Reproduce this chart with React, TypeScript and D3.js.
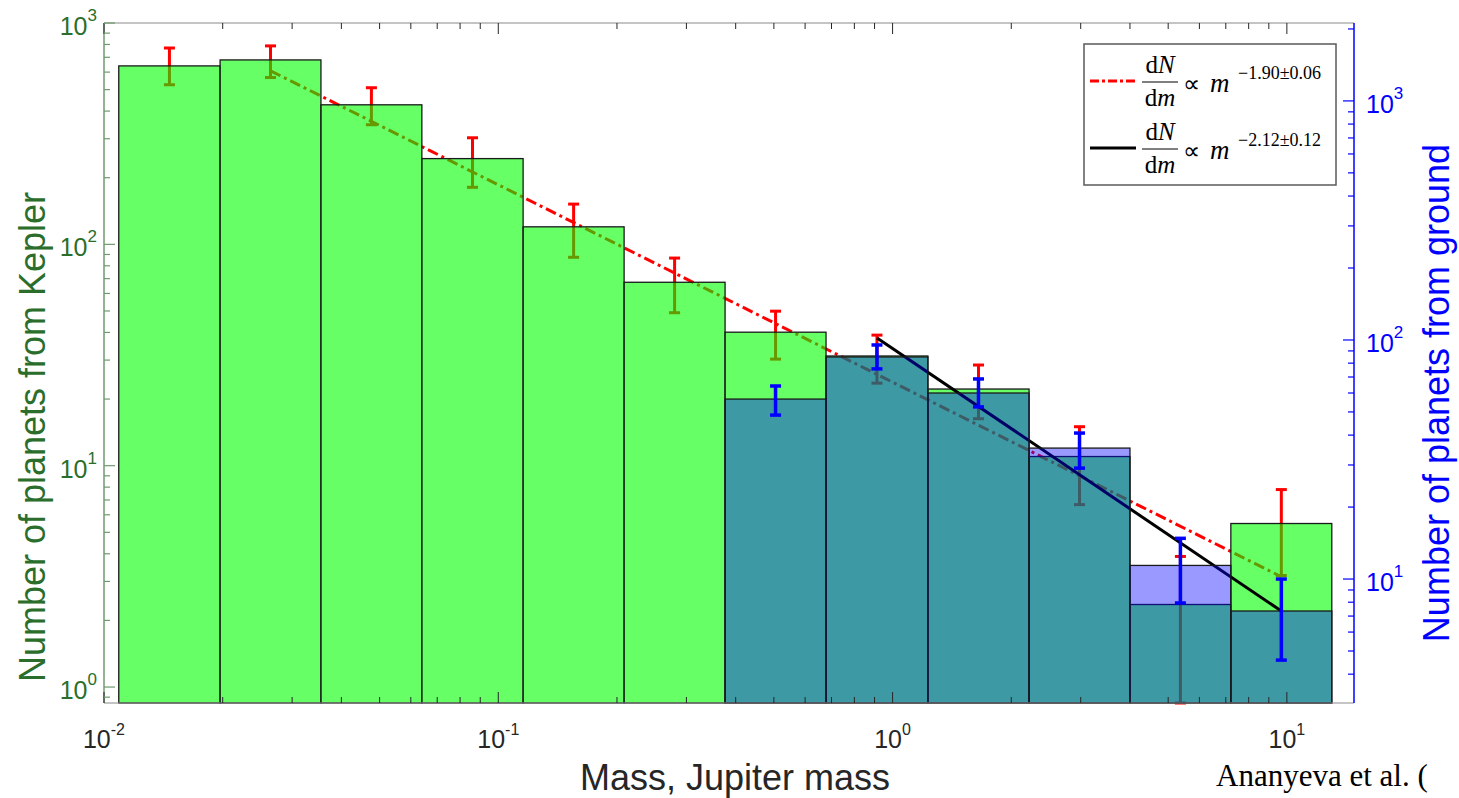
import React from 'react';
import * as d3 from 'd3';

const W = 1459;
const H = 798;

// Mass bin edges (Jupiter masses), 12 log-spaced bins
const binEdges = [0.0109, 0.0197, 0.0355, 0.064, 0.1156, 0.2085, 0.376, 0.678, 1.229, 2.219, 4.0, 7.21, 13.0];

// Kepler counts (left axis) with error-bar bounds
const keplerCounts = [640, 681, 427, 244, 120, 67.4, 40.1, 31.3, 22.2, 11.0, 2.36, 5.48];
const keplerErrHigh = [771, 788, 510, 303, 152, 86.7, 49.9, 38.9, 28.5, 15.0, 3.89, 7.8];
const keplerErrLow = [526, 567, 347, 181, 87.4, 49.1, 30.3, 23.6, 16.3, 6.67, 0.3, 3.19];

// Ground-based counts (right axis), bins 7..12
const groundStartBin = 6;
const groundCounts = [56.6, 84.9, 60.0, 35.3, 11.4, 7.35];
const groundErrHigh = [64.2, 95.3, 68.7, 40.8, 14.8, 10.0];
const groundErrLow = [48.5, 75.7, 52.5, 29.1, 7.94, 4.58];

// Power-law fit endpoints [mass, count]
const redFit = [[0.02645, 608], [9.68, 3.15]];
const blackFit = [[0.913, 102], [9.68, 7.35]];

// Axes
const xDomain = [0.01, 14.8];
const yLeftDomain = [0.847, 1000];
const yRightDomain = [3.03, 2118];
const xMajorTicks = [0.01, 0.1, 1, 10];
const xTickExps = ['-2', '-1', '0', '1'];
const yLeftMajorTicks = [1, 10, 100, 1000];
const yLeftExps = ['0', '1', '2', '3'];
const yRightMajorTicks = [10, 100, 1000];
const yRightExps = ['1', '2', '3'];

const legendExps = ['−1.90±0.06', '−2.12±0.12'];

const M = { left: 104, right: 1354, top: 23, bottom: 703 };

const SANS = '"Liberation Sans", Arial, Helvetica, sans-serif';
const SERIF = '"Liberation Serif", "Times New Roman", serif';
const LEFT_TEXT = '#2b6e2b';
const LEFT_AXIS = '#6f9a6f';
const BLUE = '#0000ff';
const GREY_TEXT = '#262626';
const GREY_AXIS = '#8a8a8a';

const isMajor = (t: number) => Math.abs(Math.log10(t) - Math.round(Math.log10(t))) < 1e-6;

export default function App() {
  const x = d3.scaleLog().domain(xDomain).range([M.left, M.right]);
  const yL = d3.scaleLog().domain(yLeftDomain).range([M.bottom, M.top]);
  const yR = d3.scaleLog().domain(yRightDomain).range([M.bottom, M.top]);
  const clampL = (v: number) => Math.max(yLeftDomain[0], Math.min(yLeftDomain[1], v));
  const clampR = (v: number) => Math.max(yRightDomain[0], Math.min(yRightDomain[1], v));

  const bins = keplerCounts.map((c, i) => ({
    x0: binEdges[i],
    x1: binEdges[i + 1],
    xc: Math.sqrt(binEdges[i] * binEdges[i + 1]),
  }));

  const lineL = d3.line<number[]>().x((d) => x(d[0])).y((d) => yL(d[1]));
  const lineR = d3.line<number[]>().x((d) => x(d[0])).y((d) => yR(d[1]));

  const xTicks = x.ticks().filter((t) => t >= xDomain[0] - 1e-9 && t <= xDomain[1]);
  const yLTicks = yL.ticks().filter((t) => t >= yLeftDomain[0] && t <= yLeftDomain[1] + 1e-9);
  const yRTicks = yR.ticks().filter((t) => t >= yRightDomain[0] && t <= yRightDomain[1]);

  const cap = 5.5;

  const errBar = (key: string, cx: number, y1: number, y2: number, color: string, w: number) => (
    <g key={key} stroke={color} strokeWidth={w} fill="none">
      <line x1={cx} x2={cx} y1={y1} y2={y2} />
      <line x1={cx - cap} x2={cx + cap} y1={y1} y2={y1} />
      <line x1={cx - cap} x2={cx + cap} y1={y2} y2={y2} />
    </g>
  );

  const legendEntry = (y0: number, exp: string) => (
    <g fontFamily={SERIF} fill="#000">
      <text x={1160} y={y0 - 9} fontSize={25} textAnchor="middle">
        d<tspan fontStyle="italic">N</tspan>
      </text>
      <line x1={1142} x2={1178} y1={y0} y2={y0} stroke="#000" strokeWidth={1.2} />
      <text x={1160} y={y0 + 24} fontSize={25} textAnchor="middle">
        d<tspan fontStyle="italic">m</tspan>
      </text>
      <text x={1183} y={y0 + 10} fontSize={24}>∝</text>
      <text x={1210} y={y0 + 10} fontSize={27} fontStyle="italic">m</text>
      <text x={1238} y={y0 - 3} fontSize={18}>{exp}</text>
    </g>
  );

  return (
    <svg
      width={W}
      height={H}
      viewBox={`0 0 ${W} ${H}`}
      style={{ position: 'absolute', left: 0, top: 0, display: 'block', background: '#fff' }}
    >
      <rect x={0} y={0} width={W} height={H} fill="#fff" />

      {/* Red fit line and Kepler error bars (beneath the translucent green bars) */}
      <path d={lineL(redFit) || ''} fill="none" stroke="#ff0000" strokeWidth={3} strokeDasharray="11,4,3,4" />
      {bins.map((b, i) =>
        errBar(`ke${i}`, x(b.xc), yL(clampL(keplerErrHigh[i])), yL(clampL(keplerErrLow[i])), '#ff0000', 3)
      )}

      {/* Kepler bars */}
      {bins.map((b, i) => (
        <rect
          key={`kb${i}`}
          x={x(b.x0)}
          width={x(b.x1) - x(b.x0)}
          y={yL(keplerCounts[i])}
          height={M.bottom - yL(keplerCounts[i])}
          fill="rgba(0,255,0,0.6)"
          stroke="#1a1a1a"
          strokeWidth={1.3}
        />
      ))}

      {/* Black fit line (ground) */}
      <path d={lineR(blackFit) || ''} fill="none" stroke="#000" strokeWidth={3} />

      {/* Ground bars */}
      {groundCounts.map((c, j) => {
        const b = bins[groundStartBin + j];
        return (
          <rect
            key={`gb${j}`}
            x={x(b.x0)}
            width={x(b.x1) - x(b.x0)}
            y={yR(c)}
            height={M.bottom - yR(c)}
            fill="rgba(0,0,255,0.4)"
            stroke="#1a1a1a"
            strokeWidth={1.3}
          />
        );
      })}

      {/* Ground error bars */}
      {groundCounts.map((c, j) => {
        const b = bins[groundStartBin + j];
        return errBar(`ge${j}`, x(b.xc), yR(clampR(groundErrHigh[j])), yR(clampR(groundErrLow[j])), '#0000ff', 3.5);
      })}

      {/* Axes box */}
      <line x1={M.left} x2={M.right} y1={M.top} y2={M.top} stroke={GREY_AXIS} strokeWidth={1.2} />
      <line x1={M.left} x2={M.right} y1={M.bottom} y2={M.bottom} stroke={GREY_AXIS} strokeWidth={1.2} />
      <line x1={M.left} x2={M.left} y1={M.top} y2={M.bottom} stroke={LEFT_AXIS} strokeWidth={1.5} />
      <line x1={M.right} x2={M.right} y1={M.top} y2={M.bottom} stroke={BLUE} strokeWidth={1.5} />

      {/* X ticks (bottom and top, inward) */}
      {xTicks.map((t, i) => {
        const len = isMajor(t) ? 11 : 6;
        const px = x(t);
        return (
          <g key={`xt${i}`} stroke={GREY_TEXT} strokeWidth={1}>
            <line x1={px} x2={px} y1={M.bottom} y2={M.bottom - len} />
            <line x1={px} x2={px} y1={M.top} y2={M.top + len} />
          </g>
        );
      })}
      {xMajorTicks.map((t, i) => (
        <text key={`xl${i}`} x={x(t)} y={748} fontFamily={SANS} fontSize={25} fill={GREY_TEXT} textAnchor="middle">
          10<tspan dy={-13} fontSize={16}>{xTickExps[i]}</tspan>
        </text>
      ))}

      {/* Left Y ticks */}
      {yLTicks.map((t, i) => {
        const len = isMajor(t) ? 11 : 6;
        const py = yL(t);
        return <line key={`ylt${i}`} x1={M.left} x2={M.left + len} y1={py} y2={py} stroke={LEFT_AXIS} strokeWidth={1.2} />;
      })}
      {yLeftMajorTicks.map((t, i) => (
        <text key={`yll${i}`} x={97} y={yL(t) + 12} fontFamily={SANS} fontSize={25} fill={LEFT_TEXT} textAnchor="end">
          10<tspan dy={-14} fontSize={17}>{yLeftExps[i]}</tspan>
        </text>
      ))}

      {/* Right Y ticks */}
      {yRTicks.map((t, i) => {
        const len = isMajor(t) ? 11 : 6;
        const py = yR(t);
        return <line key={`yrt${i}`} x1={M.right} x2={M.right - len} y1={py} y2={py} stroke={BLUE} strokeWidth={1.2} />;
      })}
      {yRightMajorTicks.map((t, i) => (
        <text key={`yrl${i}`} x={1366} y={yR(t) + 12} fontFamily={SANS} fontSize={25} fill={BLUE} textAnchor="start">
          10<tspan dy={-14} fontSize={17}>{yRightExps[i]}</tspan>
        </text>
      ))}

      {/* Axis labels */}
      <text
        transform={`translate(45, 437) rotate(-90)`}
        fontFamily={SANS}
        fontSize={36}
        fill={LEFT_TEXT}
        textAnchor="middle"
      >
        Number of planets from Kepler
      </text>
      <text
        transform={`translate(1449, 393) rotate(-90)`}
        fontFamily={SANS}
        fontSize={36}
        fill={BLUE}
        textAnchor="middle"
      >
        Number of planets from ground
      </text>
      <text x={735} y={790} fontFamily={SANS} fontSize={36} fill={GREY_TEXT} textAnchor="middle">
        Mass, Jupiter mass
      </text>

      {/* Legend */}
      <rect x={1084} y={44} width={252} height={141} fill="#fff" stroke="#5a5a5a" strokeWidth={1.5} />
      <line x1={1090} x2={1136} y1={81} y2={81} stroke="#ff0000" strokeWidth={3} strokeDasharray="9,3,3,3" />
      {legendEntry(82, legendExps[0])}
      <line x1={1090} x2={1136} y1={148} y2={148} stroke="#000" strokeWidth={3} />
      {legendEntry(149, legendExps[1])}

      {/* Citation */}
      <text x={1216} y={786} fontFamily={SERIF} fontSize={31} fill="#000">
        Ananyeva et al. (
      </text>
    </svg>
  );
}
